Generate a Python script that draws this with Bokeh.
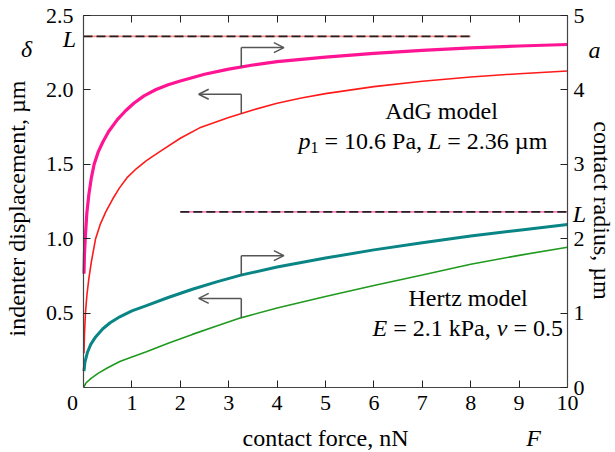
import numpy as np
from bokeh.plotting import figure
from bokeh.models import (Range1d, LinearAxis, FixedTicker, PrintfTickFormatter,
                          Label, Arrow, OpenHead)
from bokeh.embed import file_html
from bokeh.resources import INLINE

# ---------------- data ----------------
force_ticks = [0, 1, 2, 3, 4, 5, 6, 7, 8, 9, 10]
disp_ticks = [0.5, 1.0, 1.5, 2.0, 2.5]
radius_ticks = [0, 1, 2, 3, 4, 5]

# AdG model: contact radius a (right axis, um)
adg_a_F = [0.01, 0.02, 0.04, 0.07, 0.11, 0.16, 0.22, 0.3, 0.4, 0.52, 0.7, 0.87, 1.04,
           1.25, 1.5, 1.75, 2.0, 2.5, 3.0, 3.5, 4.0, 5.0, 6.0, 7.0, 8.0, 9.0, 10.0]
adg_a = [1.53, 1.80, 2.05, 2.35, 2.59, 2.81, 3.00, 3.16, 3.30, 3.44, 3.60, 3.72, 3.82,
         3.92, 4.005, 4.07, 4.12, 4.21, 4.28, 4.335, 4.38, 4.44, 4.49, 4.53, 4.565, 4.59, 4.61]

# AdG model: indenter displacement delta (left axis, um)
adg_d_F = [0.01, 0.02, 0.04, 0.07, 0.11, 0.16, 0.25, 0.35, 0.46, 0.6, 0.74, 0.9, 1.09,
           1.3, 1.6, 2.0, 2.4, 3.0, 3.5, 4.0, 4.5, 5.0, 6.0, 7.0, 8.0, 9.0, 10.0]
adg_d = [0.23, 0.36, 0.50, 0.62, 0.73, 0.84, 1.00, 1.10, 1.18, 1.265, 1.34, 1.41, 1.47,
         1.525, 1.59, 1.675, 1.745, 1.815, 1.865, 1.91, 1.945, 1.975, 2.022, 2.058, 2.087,
         2.109, 2.127]

# Hertz model: contact radius a (right axis, um)
hertz_a_F = [0.01, 0.03, 0.08, 0.15, 0.25, 0.4, 0.55, 0.75, 1.0, 1.3, 1.75, 2.25, 2.75,
             3.25, 4.0, 5.0, 6.0, 7.0, 8.0, 9.0, 10.0]
hertz_a = [0.22, 0.34, 0.47, 0.58, 0.68, 0.79, 0.87, 0.95, 1.03, 1.10, 1.21, 1.32, 1.42,
           1.51, 1.62, 1.74, 1.85, 1.945, 2.035, 2.115, 2.19]

# Hertz model: indenter displacement delta (left axis, um)
hertz_d_F = [0.0, 0.05, 0.15, 0.3, 0.5, 0.75, 1.0, 1.3, 1.75, 2.25, 2.75, 3.25, 4.0,
             5.0, 6.0, 7.0, 8.0, 9.0, 10.0]
hertz_d = [0.0, 0.03, 0.06, 0.095, 0.133, 0.175, 0.205, 0.24, 0.298, 0.357, 0.413, 0.468,
           0.534, 0.612, 0.686, 0.756, 0.828, 0.888, 0.942]

L_value = 2.36                 # L = 2.36 um
L_span_left = [0, 8]           # reference line drawn on delta axis
L_span_right = [2, 10]         # reference line drawn on radius axis
arrow_force = 3.26

# ---------------- styles ----------------
SERIF = "Liberation Serif"
C_MAG = "#ff1493"
C_RED = "#ff1a1a"
C_TEAL = "#0a8585"
C_GREEN = "#1f9a1f"
C_AX = "#444444"
C_ARROW = "#555555"

W, H = 615, 452
FL, FR, FT, FB = 83, 567, 15, 387          # frame box of the axes (pixels)
x0d, x1d = force_ticks[0], force_ticks[-1]
y0d, y1d = 0.0, disp_ticks[-1]
a0d, a1d = radius_ticks[0], radius_ticks[-1]
sx = (FR - FL) / (x1d - x0d)
sy = (FB - FT) / (y1d - y0d)
sa = (FB - FT) / (a1d - a0d)

p = figure(width=W, height=H, output_backend="svg", toolbar_location=None,
           x_axis_type=None, y_axis_type=None,
           x_range=Range1d(x0d - FL / sx, x1d + (W - FR) / sx),
           y_range=Range1d(y0d - (H - FB) / sy, y1d + FT / sy),
           min_border=0)
p.extra_y_ranges = {"a": Range1d(a0d - (H - FB) / sa, a1d + FT / sa)}
p.grid.visible = False
p.outline_line_color = None
p.background_fill_color = "white"
p.border_fill_color = "white"

def style_axis(ax):
    ax.major_tick_in = 7
    ax.major_tick_out = 0
    ax.minor_tick_in = 7
    ax.minor_tick_out = 0
    ax.axis_line_color = C_AX
    ax.axis_line_width = 1.2
    ax.major_tick_line_color = "#222222"
    ax.minor_tick_line_color = "#222222"
    ax.major_label_text_font = SERIF
    ax.major_label_text_font_size = "22px"
    ax.major_label_text_color = "black"

xb = LinearAxis(fixed_location=y0d, bounds=(x0d, x1d),
                ticker=FixedTicker(ticks=[t for t in force_ticks if t != 0],
                                   minor_ticks=[]))
style_axis(xb)
xb.major_label_standoff = 8
p.add_layout(xb, "below")

xt = LinearAxis(fixed_location=y1d, bounds=(x0d, x1d),
                ticker=FixedTicker(ticks=[], minor_ticks=force_ticks))
style_axis(xt)
p.add_layout(xt, "above")

yl = LinearAxis(fixed_location=x0d, bounds=(y0d, y1d),
                ticker=FixedTicker(ticks=disp_ticks, minor_ticks=[]),
                formatter=PrintfTickFormatter(format="%.1f"))
style_axis(yl)
yl.major_label_standoff = 10
p.add_layout(yl, "left")

yr = LinearAxis(fixed_location=x1d, y_range_name="a", bounds=(a0d, a1d),
                ticker=FixedTicker(ticks=radius_ticks, minor_ticks=[]))
style_axis(yr)
yr.major_label_standoff = 6
p.add_layout(yr, "right")

# reference lines L
p.line(L_span_left, [L_value, L_value], line_color="#ff8a8a", line_width=1.6)
p.line(L_span_left, [L_value, L_value], line_color="#222222", line_width=1.6,
       line_dash="9 4")
p.line(L_span_right, [L_value, L_value], y_range_name="a", line_color="#ff80c0",
       line_width=1.6)
p.line(L_span_right, [L_value, L_value], y_range_name="a", line_color="#222222",
       line_width=1.6, line_dash="9 4")

# curves
p.line(adg_d_F, adg_d, line_color=C_RED, line_width=1.6)
p.line(hertz_d_F, hertz_d, line_color=C_GREEN, line_width=1.6)
p.line(adg_a_F, adg_a, y_range_name="a", line_color=C_MAG, line_width=3.2)
p.line(hertz_a_F, hertz_a, y_range_name="a", line_color=C_TEAL, line_width=3.0)

# arrows pointing at axes
ratio = (y1d - y0d) / (a1d - a0d)
rise = 0.13
reach = 0.88
for F, vals, scale, direction in [
    (adg_a_F, adg_a, ratio, 1), (adg_d_F, adg_d, 1.0, -1),
    (hertz_a_F, hertz_a, ratio, 1), (hertz_d_F, hertz_d, 1.0, -1)]:
    yb = float(np.interp(arrow_force, F, vals)) * scale
    yt = yb + rise
    p.line([arrow_force, arrow_force], [yb, yt], line_color=C_ARROW, line_width=1.5)
    p.add_layout(Arrow(end=OpenHead(size=10, line_color=C_ARROW, line_width=1.5),
                       x_start=arrow_force, y_start=yt,
                       x_end=arrow_force + direction * reach, y_end=yt,
                       line_color=C_ARROW, line_width=1.5))

# ---------------- texts ----------------
def px(xp):
    return x0d + (xp - FL) / sx

def py(yp):
    return y0d + (FB - yp) / sy

def lab(text, x, y, size="24px", style="normal", align="left", baseline="middle",
        angle=0, dx=0, dy=0):
    p.add_layout(Label(text=text, x=x, y=y, x_offset=dx, y_offset=dy,
                       text_font=SERIF, text_font_size=size, text_font_style=style,
                       text_align=align, text_baseline=baseline, angle=angle,
                       text_color="black"))

# axis titles and symbols
lab("indenter displacement, µm", px(16), py(208), align="center", angle=np.pi / 2)
lab("contact radius, µm", px(601), py(210), align="center", angle=-np.pi / 2)
lab("contact force, nN", (x0d + x1d) / 2, py(437), align="center")
lab("F", px(533), py(437), style="italic", align="center")
lab("δ", px(26), py(48), style="italic", align="center")
lab("L", px(69), L_value, style="italic", align="center", dy=-3)
lab("a", px(594), py(49), style="italic", align="center")
lab("L", px(579), L_value * ratio, style="italic", align="center", dy=-2)
lab(str(force_ticks[0]), px(72), y0d, size="22px", align="center", baseline="top", dy=-8)

# model annotations
lab("AdG model", px(441), py(110), align="center")
xa, ya = px(298), py(140)
lab("p", xa, ya, style="italic")
lab("1", xa, ya, size="16px", dx=12, dy=-7)
lab("= 10.6 Pa,", xa, ya, dx=26)
lab("L", xa, ya, style="italic", dx=129.5)
lab("= 2.36 µm", xa, ya, dx=148.8)

lab("Hertz model", px(408), py(297))
xh, yh = px(372), py(327)
lab("E", xh, yh, style="italic")
lab("= 2.1 kPa,", xh, yh, dx=20.7)
lab("ν", xh, yh, style="italic", dx=124.2)
lab("= 0.5", xh, yh, dx=140.9)

open("out.html", "w").write(file_html(p, INLINE))
